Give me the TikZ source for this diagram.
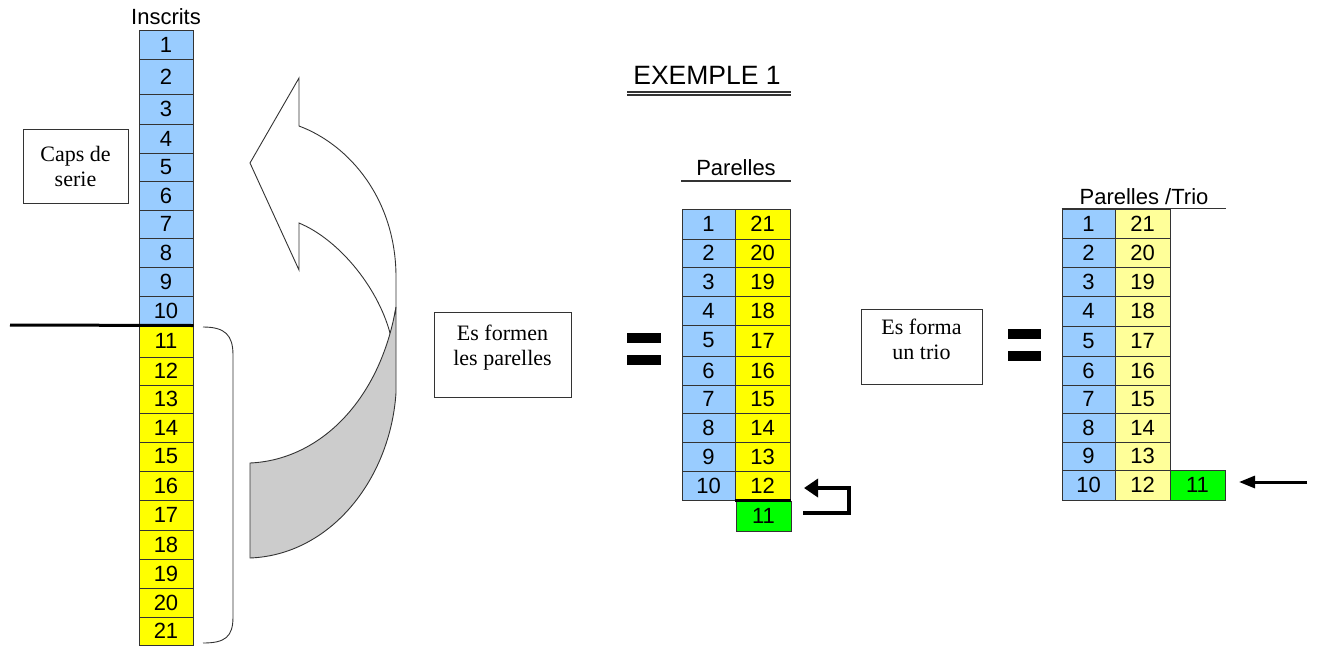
\documentclass[tikz,border=0pt]{standalone}
\usepackage{fontspec}
\setmainfont{Liberation Serif}
\newfontfamily\arialf{Liberation Sans}
\usetikzlibrary{arrows.meta}
\definecolor{blueC}{HTML}{99CCFF}
\definecolor{yelC}{HTML}{FFFF00}
\definecolor{yelL}{HTML}{FFFF99}
\definecolor{greenC}{HTML}{00FF00}
\definecolor{bandC}{HTML}{CCCCCC}
\definecolor{edgeC}{HTML}{333333}
\begin{document}
\begin{tikzpicture}[x=1pt,y=-1pt,
  cell/.style={draw=edgeC, line width=1pt, inner sep=0pt, font=\arialf\fontsize{22}{24}\selectfont, text=black},
  sbox/.style={draw=edgeC, line width=1pt, align=center, inner sep=0pt, font=\fontsize{22}{25}\selectfont},
  lbl/.style={font=\arialf\fontsize{22}{24}\selectfont, inner sep=0pt},
  shapeline/.style={draw=edgeC, line width=0.9pt},
  eqbar/.style={fill=black}
]
\useasboundingbox (0,0) rectangle (1317,646);

% ---------- Left column: Inscrits ----------
\node[lbl] (ins) at (166,17) {Inscrits};
\foreach \a/\b/\t in {30/59/1,59/94/2,94/124/3,124/153/4,153/181/5,181/210/6,210/238/7,238/267/8,267/296/9,296/325/10}
  \node[cell, fill=blueC, minimum width=54, minimum height={\b-\a}] (L\t) at (166,{(\a+\b)/2}) {\t};
\foreach \a/\b/\t in {325/357/11,357/385/12,385/413/13,413/442/14,442/471/15,471/500/16,500/530/17,530/559/18,559/588/19,588/617/20,617/645/21}
  \node[cell, fill=yelC, minimum width=54, minimum height={\b-\a}] (L\t) at (166,{(\a+\b)/2}) {\t};
\coordinate (cutL) at (10,325);
\draw[line width=3pt] (cutL) -- (L10.south east);

% brace
\draw[shapeline] (203,327) .. controls (225,327) and (233,335) .. (233,355) -- (233,617) .. controls (233,637) and (225,643) .. (203,643);

\node[sbox, minimum width=105, minimum height=74] (caps) at (75.5,166) {Caps de\\serie};

% ---------- curved arrow ----------
\draw[shapeline, fill=white] (250,163) -- (299,78) -- (299,126) .. controls (350,145) and (396,200) .. (396,277) -- (396,307) -- (391,337) .. controls (380,290) and (340,240) .. (299,223) -- (299,270) -- cycle;
\draw[shapeline, fill=bandC] (250,463) .. controls (320,460) and (380,400) .. (396,307) -- (396,393) .. controls (390,480) and (330,555) .. (250,558) -- cycle;

% ---------- title ----------
\node[font=\arialf\fontsize{26.5}{28}\selectfont, inner sep=0pt] (title) at (707,75) {EXEMPLE 1};
\draw[line width=1.2pt, edgeC] (627,92) -- (791,92);
\draw[line width=1.2pt, edgeC] (627,95) -- (791,95);

% ---------- middle ----------
\node[sbox, minimum width=137, minimum height=85] (formen) at (502.5,354.5) {Es formen\\les parelles\\[-14pt]\strut};
\fill[eqbar] (627,333) rectangle (661,343);
\fill[eqbar] (627,355) rectangle (661,365);

\node[lbl] (ptm) at (736,168) {Parelles};
\draw[line width=1.2pt, edgeC] (681,181) -- (791,181);
\foreach \a/\b/\p/\q [count=\i] in {209/239/1/21,239/267/2/20,267/296/3/19,296/325/4/18,325/356/5/17,356/385/6/16,385/413/7/15,413/442/8/14,442/471/9/13,471/500/10/12}{
  \node[cell, fill=blueC, minimum width=53, minimum height={\b-\a}] (ML\i) at (708.5,{(\a+\b)/2}) {\p};
  \node[cell, fill=yelC, minimum width=55, minimum height={\b-\a}] (MR\i) at (762.5,{(\a+\b)/2}) {\q};
}
\node[cell, fill=greenC, minimum width=55, minimum height=30] (MG) at (763.5,516) {11};
\draw[line width=3pt] (MR10.south west) -- (MR10.south east);

\coordinate (rb1) at (803,513);
\coordinate (rb2) at (849,513);
\coordinate (rb3) at (849,488);
\coordinate (rb4) at (804,488);
\draw[line width=4.5pt, line join=miter, -{Triangle[length=14pt,width=18pt]}] (rb1) -- (rb2) -- (rb3) -- (rb4);

% ---------- right ----------
\node[sbox, minimum width=121, minimum height=75] (trio) at (921.5,346.5) {Es forma\\un trio\\[-17pt]\strut};
\fill[eqbar] (1008,329) rectangle (1041,339);
\fill[eqbar] (1008,351) rectangle (1041,361);

\node[lbl] (ptr) at (1144,197) {Parelles /Trio};
\foreach \a/\b/\p/\q [count=\i] in {209/238/1/21,238/267/2/20,267/296/3/19,296/326/4/18,326/356/5/17,356/385/6/16,385/413/7/15,413/442/8/14,442/470/9/13,470/500/10/12}{
  \node[cell, fill=blueC, minimum width=53, minimum height={\b-\a}] (RL\i) at (1088.5,{(\a+\b)/2}) {\p};
  \node[cell, fill=yelL, minimum width=55, minimum height={\b-\a}] (RR\i) at (1142.5,{(\a+\b)/2}) {\q};
}
\node[cell, fill=greenC, minimum width=55, minimum height=30] (RG) at (1197.5,485) {11};
\draw[line width=1.2pt, edgeC] (RL1.north west) -- (RG.east |- RL1.north west);

\coordinate (ra1) at (1307,482);
\coordinate (ra2) at (1239,482);
\draw[line width=3pt, -{Triangle[length=16pt,width=12pt]}] (ra1) -- (ra2);
\end{tikzpicture}
\end{document}
